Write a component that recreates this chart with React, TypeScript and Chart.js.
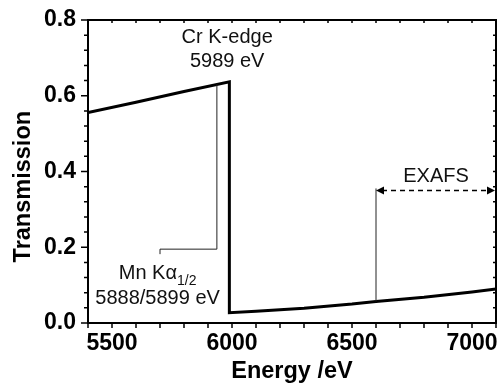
import React, { useEffect, useRef } from 'react';
import { Chart, registerables } from 'chart.js';

Chart.register(...registerables);

// ---- data ----
const energy = [5400, 5600, 5800, 5989, 5989, 6100, 6300, 6500, 6600, 6800, 7000, 7100];
const transmission = [0.556, 0.583, 0.611, 0.637, 0.027, 0.031, 0.039, 0.05, 0.057, 0.068, 0.082, 0.09];
const xTickLabels = ['5500', '6000', '6500', '7000'];
const yTickLabels = ['0.0', '0.2', '0.4', '0.6', '0.8'];
const xTitle = 'Energy /eV';
const yTitle = 'Transmission';
const edgeText = ['Cr K-edge', '5989 eV'];
const mnText = ['Mn K', 'α', '1/2', '5888/5899 eV'];
const exafsText = 'EXAFS';

// annotation anchors (data units)
const edgeLabelAt = [5980, 0.74];
const mnMarker = [5937, 0.63]; // x, top on curve
const mnBracket = [5700, 0.195];
const mnLabelAt = [5690, 0.1155];
const exafsRange = [6600, 7100];
const exafsCurveY = 0.057;
const exafsArrowY = 0.35;
const exafsLabelAt = [6850, 0.372];

const FONT = 'Arial, "Liberation Sans", sans-serif';

const annotPlugin = {
  id: 'annot',
  afterDraw(chart: any) {
    const ctx = chart.ctx as CanvasRenderingContext2D;
    const xs = chart.scales.x;
    const ys = chart.scales.y;
    const a = chart.chartArea;
    const X = (v: number) => xs.getPixelForValue(v);
    const Y = (v: number) => ys.getPixelForValue(v);
    ctx.save();
    // frame
    ctx.strokeStyle = '#000';
    ctx.lineWidth = 2;
    ctx.strokeRect(a.left, a.top, a.right - a.left, a.bottom - a.top);
    // ticks
    ctx.lineWidth = 1.5;
    ctx.beginPath();
    xs.ticks.forEach((t: any) => {
      const px = X(t.value);
      ctx.moveTo(px, a.bottom);
      ctx.lineTo(px, a.bottom + 5);
      ctx.moveTo(px, a.top);
      ctx.lineTo(px, a.top + 3);
    });
    ys.ticks.forEach((t: any) => {
      const py = Y(t.value);
      const major = t.label !== '';
      ctx.moveTo(a.left, py);
      ctx.lineTo(a.left - (major ? 7 : 4), py);
      ctx.moveTo(a.right, py);
      ctx.lineTo(a.right - 3, py);
    });
    ctx.stroke();

    // thin annotation lines
    ctx.strokeStyle = '#222';
    ctx.lineWidth = 1;
    ctx.beginPath();
    ctx.moveTo(X(mnMarker[0]), Y(mnMarker[1]));
    ctx.lineTo(X(mnMarker[0]), Y(mnBracket[1]));
    ctx.lineTo(X(mnBracket[0]), Y(mnBracket[1]));
    ctx.lineTo(X(mnBracket[0]), Y(mnBracket[1]) + 5);
    ctx.moveTo(X(exafsRange[0]), Y(exafsCurveY));
    ctx.lineTo(X(exafsRange[0]), Y(exafsArrowY) - 2);
    ctx.stroke();

    // dashed double arrow
    const ay = Y(exafsArrowY);
    const x1 = X(exafsRange[0]);
    const x2 = X(exafsRange[1]) - 1;
    ctx.strokeStyle = '#000';
    ctx.lineWidth = 1.6;
    ctx.setLineDash([5, 4]);
    ctx.beginPath();
    ctx.moveTo(x1 + 6, ay);
    ctx.lineTo(x2 - 6, ay);
    ctx.stroke();
    ctx.setLineDash([]);
    ctx.fillStyle = '#000';
    ctx.beginPath();
    ctx.moveTo(x1, ay);
    ctx.lineTo(x1 + 8, ay - 4);
    ctx.lineTo(x1 + 8, ay + 4);
    ctx.closePath();
    ctx.fill();
    ctx.beginPath();
    ctx.moveTo(x2, ay);
    ctx.lineTo(x2 - 8, ay - 4);
    ctx.lineTo(x2 - 8, ay + 4);
    ctx.closePath();
    ctx.fill();

    // texts
    ctx.fillStyle = '#111';
    ctx.textBaseline = 'alphabetic';
    ctx.font = `20px ${FONT}`;
    ctx.textAlign = 'center';
    ctx.fillText(edgeText[0], X(edgeLabelAt[0]), Y(edgeLabelAt[1]));
    ctx.fillText(edgeText[1], X(edgeLabelAt[0]), Y(edgeLabelAt[1]) + 24);
    ctx.fillText(exafsText, X(exafsLabelAt[0]), Y(exafsLabelAt[1]));
    ctx.fillText(mnText[3], X(mnLabelAt[0]), Y(mnLabelAt[1]) + 25);
    // Mn K alpha 1/2
    const w1 = ctx.measureText(mnText[0]).width;
    const w2 = ctx.measureText(mnText[1]).width;
    ctx.font = `14px ${FONT}`;
    const w3 = ctx.measureText(mnText[2]).width;
    const total = w1 + w2 + w3;
    const sx = X(mnLabelAt[0]) - total / 2;
    const by = Y(mnLabelAt[1]);
    ctx.textAlign = 'left';
    ctx.font = `20px ${FONT}`;
    ctx.fillText(mnText[0], sx, by);
    ctx.fillText(mnText[1], sx + w1, by);
    ctx.font = `14px ${FONT}`;
    ctx.fillText(mnText[2], sx + w1 + w2, by + 6);

    // axis titles
    ctx.fillStyle = '#000';
    ctx.font = `bold 23.5px ${FONT}`;
    ctx.textAlign = 'center';
    ctx.fillText(xTitle, (a.left + a.right) / 2, 378);
    ctx.save();
    ctx.translate(29.5, Y(0.36));
    ctx.rotate(-Math.PI / 2);
    ctx.fillText(yTitle, 0, 0);
    ctx.restore();
    ctx.restore();
  },
};

function matchLabel(v: number, list: string[], digits: number, step: number) {
  const q = v / step;
  if (Math.abs(q - Math.round(q)) > 1e-6) return '';
  const s = v.toFixed(digits);
  return list.includes(s) ? s : '';
}

export default function App() {
  const ref = useRef<HTMLCanvasElement | null>(null);
  useEffect(() => {
    if (!ref.current) return;
    const chart = new Chart(ref.current, {
      type: 'scatter',
      data: {
        datasets: [
          {
            data: energy.map((e, i) => ({ x: e, y: transmission[i] })),
            showLine: true,
            borderColor: '#000',
            borderWidth: 3,
            pointRadius: 0,
            tension: 0,
            fill: false,
          },
        ],
      },
      options: {
        animation: false,
        responsive: false,
        layout: { padding: { top: 20, right: 2, left: 0, bottom: 0 } },
        plugins: { legend: { display: false }, tooltip: { enabled: false } },
        scales: {
          x: {
            type: 'linear',
            min: 5400,
            max: 7100,
            afterFit: (s: any) => {
              s.height = 60;
              s.paddingLeft = 0;
              s.paddingRight = 0;
            },
            grid: { display: false, drawTicks: false },
            border: { display: false },
            ticks: {
              stepSize: 100,
              autoSkip: false,
              maxRotation: 0,
              padding: 7,
              color: '#000',
              font: { family: FONT, size: 23, weight: 'bold' },
              callback: (v: any) => matchLabel(Number(v), xTickLabels, 0, 500),
            },
          },
          y: {
            type: 'linear',
            min: 0,
            max: 0.8,
            afterFit: (s: any) => {
              s.width = 88;
              s.paddingTop = 0;
              s.paddingBottom = 0;
            },
            grid: { display: false, drawTicks: false },
            border: { display: false },
            ticks: {
              stepSize: 0.04,
              autoSkip: false,
              padding: 12,
              color: '#000',
              font: { family: FONT, size: 23, weight: 'bold' },
              callback: (v: any) => matchLabel(Number(v), yTickLabels, 1, 0.2),
            },
          },
        },
      },
      plugins: [annotPlugin],
    });
    return () => chart.destroy();
  }, []);
  return (
    <canvas
      ref={ref}
      width={498}
      height={383}
      style={{ position: 'fixed', left: 0, top: 0, display: 'block', width: 498, height: 383 }}
    />
  );
}
